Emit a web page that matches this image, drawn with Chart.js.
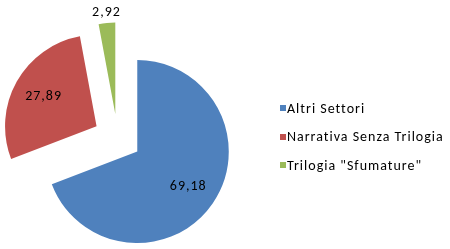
<!DOCTYPE html>
<html>
<head>
<meta charset="utf-8">
<script src="https://cdn.jsdelivr.net/npm/chart.js@4.4.0/dist/chart.umd.min.js"></script>
<style>
  body { margin: 0; background: #fff; }
  #wrap { position: relative; width: 450px; height: 249px; }
  #legend { position: absolute; left: 280px; top: 94px; font: 14px Calibri, Carlito, Lato, sans-serif; letter-spacing: 1px; color: #000; }
  #legend .row { height: 28.5px; display: flex; align-items: center; white-space: nowrap; }
  #legend .box { width: 6px; height: 6px; margin-right: 1px; }
</style>
</head>
<body>
<div id="wrap">
  <canvas id="pie" width="450" height="249"></canvas>
  <div id="legend"></div>
</div>
<script>
(function () {

    // ─────────────────────────────────────────────
    // DATA
    // ─────────────────────────────────────────────
    const labels = ['Altri Settori', 'Narrativa Senza Trilogia', 'Trilogia "Sfumature"'];
    const values = [69.18, 27.89, 2.92];
    const colors = ['#4F81BD', '#C0504D', '#9BBB59'];

    const FONT = 'Calibri, Carlito, Lato, sans-serif';

    // every slice pulled out from the centre, like excel "explode"
    const explodePlugin = {
        id: 'explode',
        afterDatasetsUpdate(chart, args, opts) {
            chart.getDatasetMeta(0).data.forEach(function (arc) {
                const mid = (arc.startAngle + arc.endAngle) / 2;
                arc.x += Math.cos(mid) * opts.distance;
                arc.y += Math.sin(mid) * opts.distance;
            });
        }
    };

    // value labels, small slices go outside
    const valueLabels = {
        id: 'valueLabels',
        afterDatasetsDraw(chart) {
            const ctx = chart.ctx;
            const data = chart.data.datasets[0].data;
            const total = data.reduce((a, b) => a + b, 0);
            ctx.save();
            ctx.font = '14px ' + FONT;
            ctx.letterSpacing = '1px';
            ctx.fillStyle = '#000';
            ctx.textAlign = 'center';
            ctx.textBaseline = 'middle';
            chart.getDatasetMeta(0).data.forEach(function (arc, i) {
                const mid = (arc.startAngle + arc.endAngle) / 2;
                const r = arc.outerRadius;
                const d = data[i] / total < 0.05 ? r + 10.5 : r * 0.67;
                const txt = data[i].toFixed(2).replace('.', ',');
                ctx.fillText(txt, arc.x + Math.cos(mid) * d + 0.5, arc.y + Math.sin(mid) * d);
            });
            ctx.restore();
        }
    };

    new Chart(document.getElementById('pie'), {
        type: 'pie',
        data: {
            labels: labels,
            datasets: [{
                data: values,
                backgroundColor: colors,
                borderWidth: 0,
                clip: false
            }]
        },
        options: {
            responsive: false,
            animation: false,
            events: [],
            radius: 91.5,
            layout: { padding: { left: 0, right: 215, top: 27, bottom: 0 } },
            plugins: {
                legend: { display: false },
                tooltip: { enabled: false },
                explode: { distance: 24 }
            }
        },
        plugins: [explodePlugin, valueLabels]
    });

    // ─────────────────────────────────────────────
    // LEGEND
    // ─────────────────────────────────────────────
    const legend = document.getElementById('legend');
    labels.forEach(function (name, i) {
        const row = document.createElement('div');
        row.className = 'row';
        const box = document.createElement('span');
        box.className = 'box';
        box.style.background = colors[i];
        const txt = document.createElement('span');
        txt.textContent = name;
        row.appendChild(box);
        row.appendChild(txt);
        legend.appendChild(row);
    });

})();
</script>
</body>
</html>
